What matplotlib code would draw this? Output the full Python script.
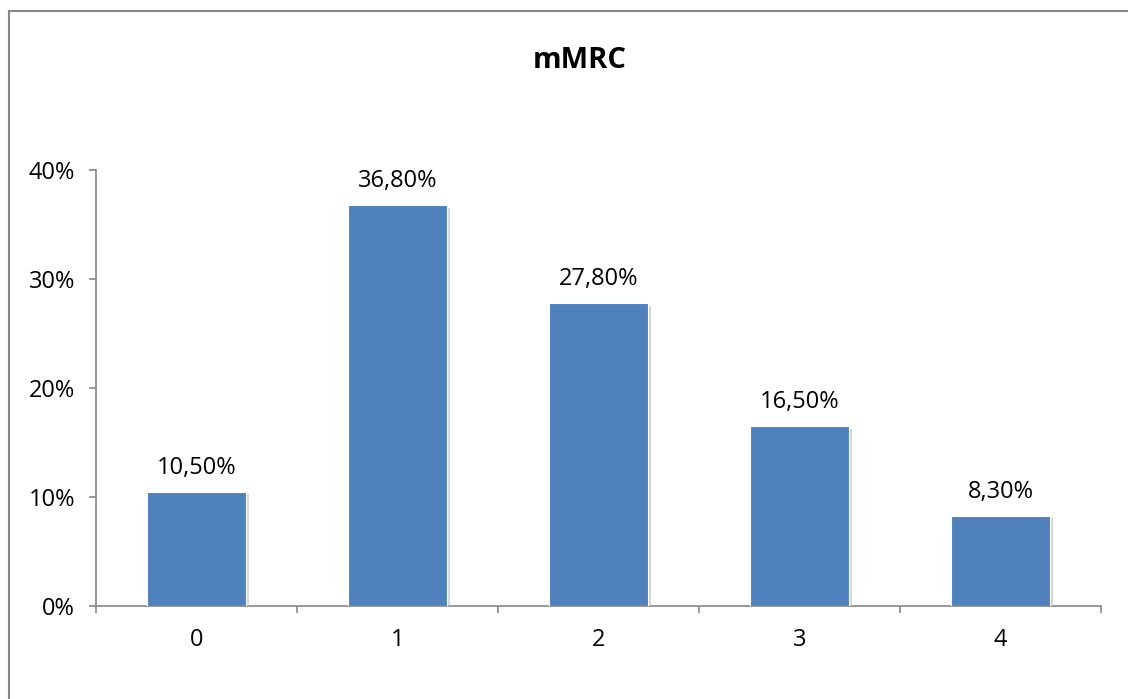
import matplotlib.pyplot as plt
import matplotlib.patheffects as pe
from matplotlib.lines import Line2D

categories = ['0', '1', '2', '3', '4']
values = [10.5, 36.8, 27.8, 16.5, 8.3]
labels = ['10,50%', '36,80%', '27,80%', '16,50%', '8,30%']
y_ticks = [0, 10, 20, 30, 40]
y_tick_labels = ['0%', '10%', '20%', '30%', '40%']

plt.rcParams['font.family'] = ['Open Sans', 'DejaVu Sans']

fig = plt.figure(figsize=(11.28, 6.99), dpi=100)
ax = fig.add_axes([0.0851, 0.1330, 0.8910, 0.6238])

x = list(range(len(categories)))
bars = ax.bar(x, values, width=0.49, color='#4F81BD', edgecolor='white', linewidth=0.8, zorder=3)
for bar in bars:
    bar.set_path_effects([pe.SimplePatchShadow(offset=(2, -2), shadow_rgbFace='#bbbbbb', alpha=0.6), pe.Normal()])

for bar, lab in zip(bars, labels):
    ax.text(bar.get_x() + bar.get_width() / 2, bar.get_height() + 2.2, lab,
            ha='center', va='center', fontsize=17, color='black')

ax.set_xlim(-0.5, 4.5)
ax.set_ylim(0, 40)
ax.set_yticks(y_ticks)
ax.set_yticklabels(y_tick_labels, fontsize=17)
ax.set_xticks([i - 0.5 for i in range(len(categories) + 1)])
ax.set_xticklabels([''] * (len(categories) + 1))
ax.set_xticks(x, minor=True)
ax.set_xticklabels(categories, minor=True, fontsize=17)
ax.tick_params(axis='x', which='minor', length=0, pad=16)
ax.tick_params(axis='x', which='major', length=5, color='#888888', width=1.2)
ax.tick_params(axis='y', length=5, color='#888888', width=1.2, pad=10)

for side in ['top', 'right']:
    ax.spines[side].set_visible(False)
for side in ['left', 'bottom']:
    ax.spines[side].set_color('#888888')
    ax.spines[side].set_linewidth(1.2)

fig.text(0.514, 0.914, 'mMRC', ha='center', va='center', fontsize=21, fontweight='bold')

# chart area border (only left and top edges fall inside the image)
fig.add_artist(Line2D([0.0078, 0.0078], [0.0, 0.984], transform=fig.transFigure,
                      color='#888888', linewidth=1.5))
fig.add_artist(Line2D([0.0078, 1.0], [0.984, 0.984], transform=fig.transFigure,
                      color='#888888', linewidth=1.5))

fig.savefig('out.png', dpi=100)
